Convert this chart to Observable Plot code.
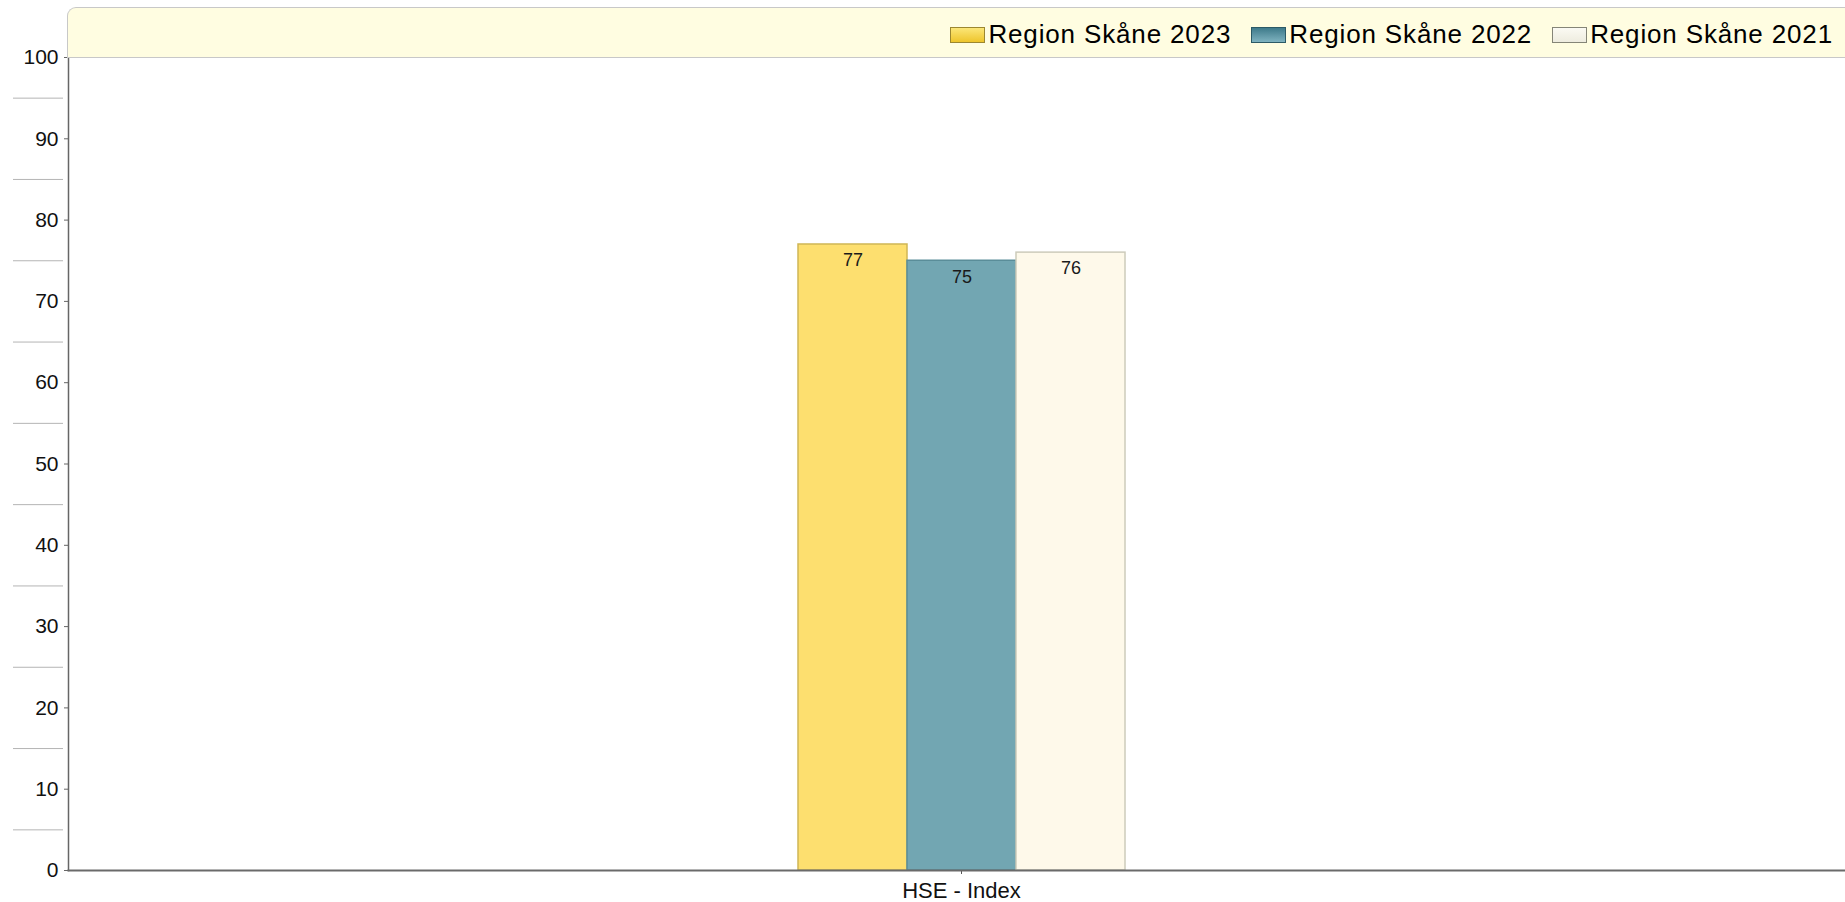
<!DOCTYPE html>
<html><head><meta charset="utf-8">
<script src="https://cdn.jsdelivr.net/npm/d3@7"></script>
<script src="https://cdn.jsdelivr.net/npm/@observablehq/plot@0.6"></script>
<style>
html,body{margin:0;padding:0;background:#fff;overflow:hidden;}
#legend{position:relative;height:57px;}
#band{position:absolute;left:67px;right:0;top:7px;height:51px;background:#fffde1;border:1px solid #c8c8c8;border-right:none;border-top-left-radius:9px;display:flex;justify-content:flex-end;align-items:center;padding-right:12px;padding-top:4px;box-sizing:border-box;font-family:"Liberation Sans",Arial,sans-serif;font-size:26px;letter-spacing:0.85px;color:#000;}
.item{display:flex;align-items:center;margin-left:20px;}
.sw{width:35px;height:16px;box-sizing:border-box;border:1.5px solid;margin-right:3px;}
#chart svg{overflow:visible;}
</style></head>
<body>
<div id="legend"><div id="band"></div></div>
<div id="chart"></div>
<script>
const category = "HSE - Index";
const series = ["Region Skåne 2023", "Region Skåne 2022", "Region Skåne 2021"];
const values = [77, 75, 76];
const yTicks = [0, 10, 20, 30, 40, 50, 60, 70, 80, 90, 100];
const yMinor = [5, 15, 25, 35, 45, 55, 65, 75, 85, 95];
const barFill = ["#fddf6f", "#72a6b2", "#fef9ea"];
const barStroke = ["#cfb656", "#5a8d99", "#cdcbbb"];
const swatchFill = ["linear-gradient(#fbe678,#eec52c)", "linear-gradient(#3e7a8a,#7fb3c0)", "linear-gradient(#fbfaf3,#eeecdf)"];
const swatchStroke = ["#9c8730", "#2c5a66", "#858577"];

const data = series.map((s, i) => ({category, series: s, value: values[i]}));
const idx = s => series.indexOf(s);

// legend
const band = document.getElementById("band");
series.forEach((s, i) => {
  const it = document.createElement("div");
  it.className = "item";
  const sw = document.createElement("span");
  sw.className = "sw";
  sw.style.background = swatchFill[i];
  sw.style.borderColor = swatchStroke[i];
  const t = document.createElement("span");
  t.textContent = s;
  it.appendChild(sw); it.appendChild(t);
  band.appendChild(it);
});

const chart = Plot.plot({
  width: 1845,
  height: 845,
  marginTop: 0,
  marginBottom: 32,
  marginLeft: 68,
  marginRight: -9,
  style: {fontFamily: "'Liberation Sans', Arial, sans-serif", color: "#222", background: "transparent", overflow: "visible"},
  fx: {domain: [category], padding: 0, label: null, axis: null},
  x: {domain: series, paddingInner: 0, paddingOuter: 6.69, axis: null},
  y: {domain: [0, 100], axis: null},
  marks: [
    Plot.barY(data, {
      fx: "category", x: "series", y: "value",
      fill: d => barFill[idx(d.series)],
      stroke: d => barStroke[idx(d.series)],
      strokeWidth: 1.5
    }),
    Plot.text(data, {fx: "category", x: "series", y: "value", text: d => String(d.value), dy: 16, fontSize: 18, fill: "#1a1a1a"}),
    Plot.axisY({ticks: yMinor, tickSize: 50, dx: -5, tickFormat: () => "", label: null, stroke: "#b4b4b4"}),
    Plot.axisY({ticks: yTicks, tickSize: 4, tickPadding: 6, fontSize: 21, label: null, stroke: "#666", fill: "#111"}),
    Plot.axisFx({anchor: "bottom", tickSize: 4, tickPadding: 8, fontSize: 22, label: null, stroke: "#555", fill: "#111"}),
    Plot.frame({anchor: "left", stroke: "#666", strokeWidth: 1.5}),
    Plot.frame({anchor: "bottom", stroke: "#6a6a6a", strokeWidth: 2})
  ]
});
document.getElementById("chart").appendChild(chart);
</script>
</body></html>
